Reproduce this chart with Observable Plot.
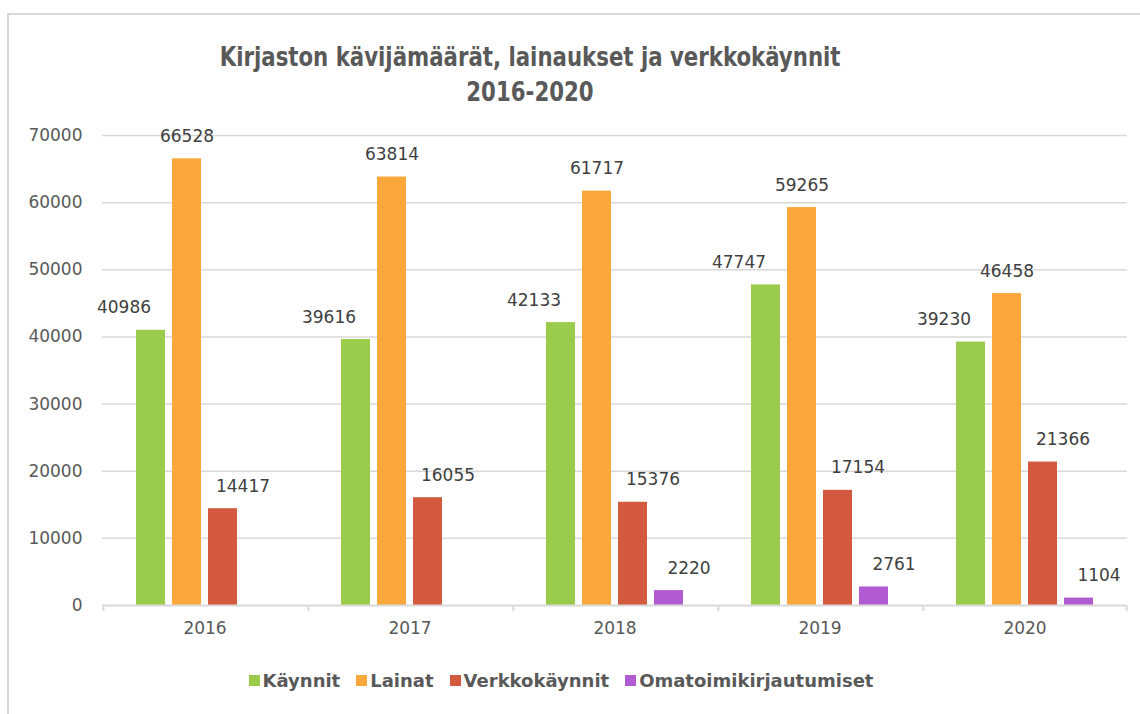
<!DOCTYPE html>
<html>
<head>
<meta charset="utf-8">
<script src="https://cdn.jsdelivr.net/npm/d3@7"></script>
<script src="https://cdn.jsdelivr.net/npm/@observablehq/plot@0.6"></script>
<style>
  body { margin: 0; background: #fff; }
  #wrap { position: relative; width: 1140px; height: 714px; overflow: hidden; background: #fff; }
  #frame { position: absolute; left: 7px; top: 13px; width: 1200px; height: 800px;
           border-top: 2px solid #d9d9d9; border-left: 2px solid #d9d9d9; pointer-events: none; }
  #title { width: 1060px; text-align: center; font-family: "Liberation Sans Narrow", "DejaVu Sans Condensed", sans-serif;
           font-weight: bold; font-size: 26px; line-height: 35px; color: #595959; padding-top: 40px; height: 85px; }
  #title span { display: inline-block; transform: scaleX(0.91); transform-origin: center; }
  #chart svg { display: block; }
  #legend { width: 1138px; margin-top: 14px; }
  #legend .lg-swatches { font-family: "DejaVu Sans", sans-serif; font-size: 18px; font-weight: bold; color: #595959; margin: 0; }
  #legend .lg-swatches-wrap { justify-content: center; }
  #legend .lg-swatch { margin-right: 16px; }
  #legend .lg-swatch > svg { margin-right: 3px; }
</style>
</head>
<body>
<div id="wrap">
  <div id="frame"></div>
  <div id="title"><span>Kirjaston kävijämäärät, lainaukset ja verkkokäynnit</span><br><span>2016-2020</span></div>
  <div id="chart"></div>
  <div id="legend"></div>
</div>
<script>
const years = [2016, 2017, 2018, 2019, 2020];
const series = ["Käynnit", "Lainat", "Verkkokäynnit", "Omatoimikirjautumiset"];
const kaynnit = [40986, 39616, 42133, 47747, 39230];
const lainat = [66528, 63814, 61717, 59265, 46458];
const verkkokaynnit = [14417, 16055, 15376, 17154, 21366];
const omatoimi = [null, null, 2220, 2761, 1104];
const yTicks = [0, 10000, 20000, 30000, 40000, 50000, 60000, 70000];

const colors = ["#9bcb4a", "#faa83b", "#d45a3f", "#b05bd1"];
const labelDx = [-27, 0, 20, 20];

const values = [kaynnit, lainat, verkkokaynnit, omatoimi];
const data = years.flatMap((year, i) =>
  series.map((s, j) => ({year, series: s, value: values[j][i]}))
).filter(d => d.value != null);

const W = 1140, H = 525, ML = 102, MR = 13, MT = 10, MB = 45;
const PI = 0.2, PO = 0.9;
const fw = (W - ML - MR) / years.length;
const step = fw / (series.length - PI + 2 * PO);
const off = PO * step + (1 - PI) * step / 2;
const grid = "#d9d9d9";

const chart = Plot.plot({
  width: W, height: H,
  marginLeft: ML, marginRight: MR, marginTop: MT, marginBottom: MB,
  style: {fontFamily: "DejaVu Sans, sans-serif", fontSize: "17px", color: "#595959", background: "transparent", overflow: "visible"},
  fx: {domain: years, padding: 0, label: null},
  x: {domain: series, paddingInner: PI, paddingOuter: PO, axis: null},
  y: {domain: [0, 70000], label: null},
  color: {domain: series, range: colors},
  marks: [
    Plot.ruleY(yTicks.slice(1), {stroke: grid, strokeWidth: 1.5}),
    Plot.axisY({ticks: yTicks, tickSize: 0, tickPadding: 20, tickFormat: d => String(d), label: null}),
    Plot.axisFx({anchor: "bottom", tickSize: 0, tickPadding: 16, tickFormat: d => String(d), label: null}),
    Plot.barY(data, {fx: "year", x: "series", y: "value", fill: "series"}),
    Plot.ruleY([0], {stroke: grid, strokeWidth: 2}),
    Plot.ruleX(years, {fx: d => d, x: () => series[0], y1: 0, y2: 0, dx: -off, insetBottom: -6, stroke: grid, strokeWidth: 2}),
    Plot.ruleX([years[years.length - 1]], {fx: d => d, x: () => series[series.length - 1], y1: 0, y2: 0, dx: off, insetBottom: -6, stroke: grid, strokeWidth: 2}),
    ...series.map((s, j) => Plot.text(data.filter(d => d.series === s), {
      fx: "year", x: "series", y: "value", text: d => String(d.value),
      dx: labelDx[j], dy: -17, lineAnchor: "bottom", fill: "#404040"
    }))
  ]
});
document.getElementById("chart").append(chart);

const legend = Plot.legend({
  legend: "swatches",
  color: {domain: series, range: colors},
  swatchSize: 11,
  className: "lg"
});
document.getElementById("legend").append(legend);
</script>
</body>
</html>
